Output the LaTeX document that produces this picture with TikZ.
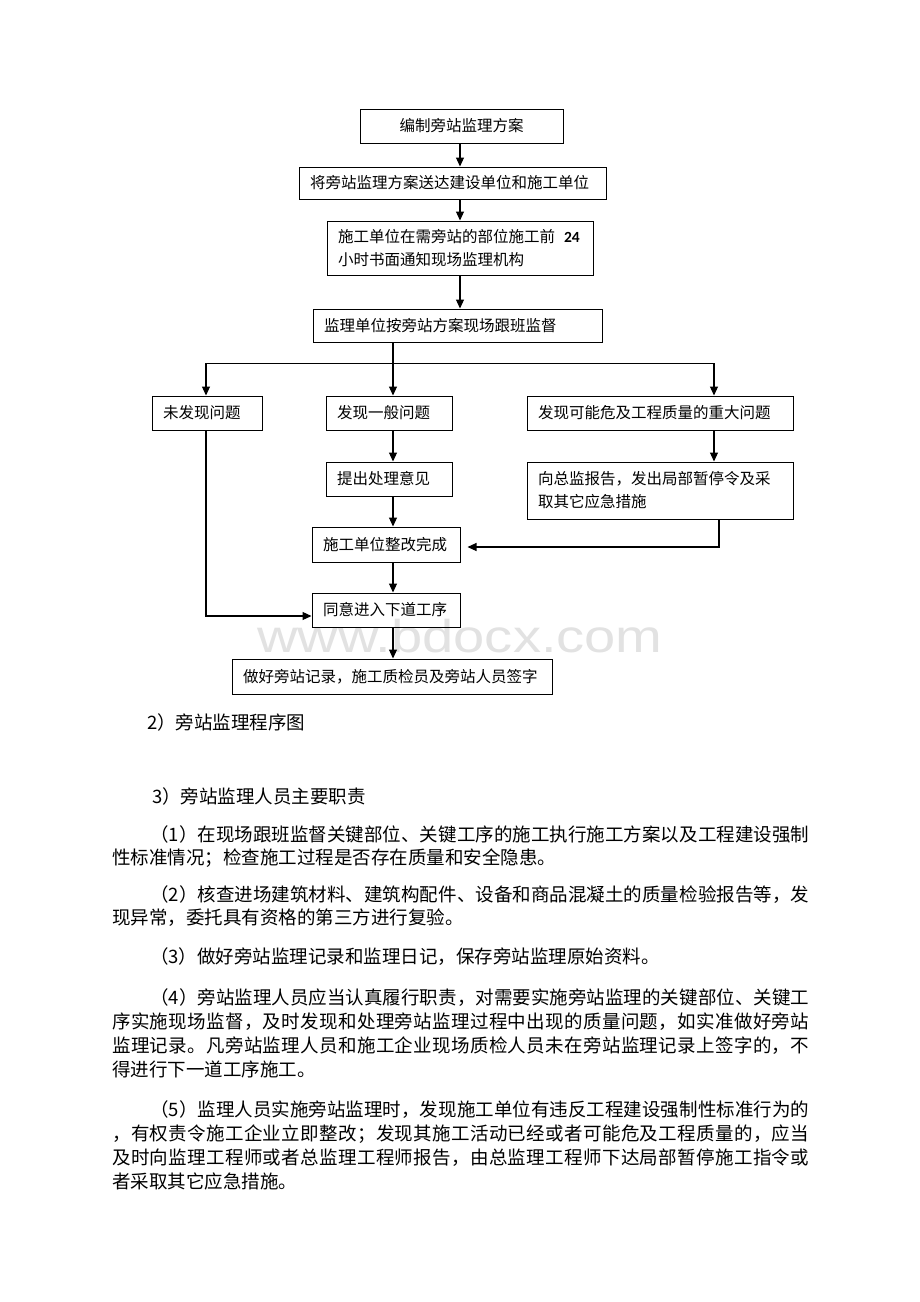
\documentclass[tikz,border=0pt]{standalone}
\usepackage{fontspec}
\setmainfont{Noto Sans CJK SC}
\newfontfamily\carlito{Carlito}
\newfontfamily\wmfont{Liberation Sans}
\usepackage{graphicx}
\usetikzlibrary{arrows.meta}
\definecolor{wm}{RGB}{226,226,226}
\makeatletter
\def\jl@a#1{#1\jl@b}
\def\jl@b#1{\ifx\relax#1\else\hfil#1\expandafter\jl@b\fi}
\newcommand\jline[2]{\makebox[#1][s]{\jl@a#2\relax}}
\makeatother
\tikzset{
  fc/.style={draw, line width=1pt, inner xsep=11pt, inner ysep=0pt, align=left,
    font=\fontsize{15.5}{23}\selectfont},
  arr/.style={line width=1.1pt, line join=miter, -{Triangle[length=9pt,width=8pt]}},
  ln/.style={line width=1pt},
  body/.style={anchor=base west, inner sep=0pt, font=\fontsize{18.5}{20}\selectfont},
  wmark/.style={anchor=base, inner sep=0pt, text=wm, font=\wmfont\fontsize{46}{46}\selectfont}
}
\begin{document}
\begin{tikzpicture}[x=1pt,y=-1pt]
\fill[white] (0,0) rectangle (920,1302);
\useasboundingbox (0,0) rectangle (920,1302);

% watermark
\node[wmark] (wmk) at (460,652) {\scalebox{1.22}[1]{www.bdocx.com}};

% flowchart boxes
\node[fc, align=center, minimum width=203pt, minimum height=34pt, text width=181pt] (b1) at (461.5,126) {编制旁站监理方案};
\node[fc, minimum width=307pt, minimum height=32pt, text width=285pt] (b2) at (452.5,183) {将旁站监理方案送达建设单位和施工单位};
\node[fc, minimum width=266pt, minimum height=54pt, text width=244pt] (b3) at (460,248) {施工单位在需旁站的部位施工前\nobreak\hspace{9pt}{\carlito\bfseries 24}\\小时书面通知现场监理机构};
\node[fc, minimum width=289pt, minimum height=33pt, text width=267pt] (b4) at (457.5,325.5) {监理单位按旁站方案现场跟班监督};
\node[fc, minimum width=110pt, minimum height=34pt, text width=88pt] (b5) at (207,413) {未发现问题};
\node[fc, minimum width=126pt, minimum height=34pt, text width=104pt] (b6) at (389,413) {发现一般问题};
\node[fc, minimum width=266pt, minimum height=34pt, text width=244pt] (b7) at (660,413) {发现可能危及工程质量的重大问题};
\node[fc, minimum width=126pt, minimum height=34pt, text width=104pt] (b8) at (389,479) {提出处理意见};
\node[fc, minimum width=266pt, minimum height=57pt, text width=244pt] (b9) at (660,490.5) {向总监报告，发出局部暂停令及采\\取其它应急措施};
\node[fc, minimum width=148pt, minimum height=35pt, text width=126pt] (b10) at (386,544.5) {施工单位整改完成};
\node[fc, minimum width=148pt, minimum height=34pt, text width=126pt] (b11) at (386,610) {同意进入下道工序};
\node[fc, minimum width=320pt, minimum height=35pt, text width=298pt] (b12) at (392,676.5) {做好旁站记录，施工质检员及旁站人员签字};

% connector columns / rows
\coordinate (cA) at (460,0);
\coordinate (cM) at (393,0);
\coordinate (cL) at (206,0);
\coordinate (cR) at (714,0);
\coordinate (cR2) at (719,0);
\coordinate (br) at (0,363);
\coordinate (j1) at (0,547);
\coordinate (j2) at (0,616);

\draw[arr] (b1.south -| cA) -- (b2.north -| cA);
\draw[arr] (b2.south -| cA) -- (b3.north -| cA);
\draw[arr] (b3.south -| cA) -- (b4.north -| cA);
\draw[arr] (b4.south -| cM) -- (b6.north -| cM);
\draw[ln] (cL |- br) -- (cR |- br);
\draw[arr] (cL |- br) -- (b5.north -| cL);
\draw[arr] (cR |- br) -- (b7.north -| cR);
\draw[arr] (b6.south -| cM) -- (b8.north -| cM);
\draw[arr] (b7.south -| cR) -- (b9.north -| cR);
\draw[arr] (b8.south -| cM) -- (b10.north -| cM);
\draw[arr, shorten >=7pt] (b9.south -| cR2) -- (cR2 |- j1) -- (b10.east |- j1);
\draw[arr] (b10.south -| cM) -- (b11.north -| cM);
\draw[arr] (b5.south -| cL) -- (cL |- j2) -- (b11.west |- j2);
\draw[arr] (b11.south -| cM) -- (b12.north -| cM);

% body text
\node[body] (t0) at (147,729) {2）旁站监理程序图};
\node[body] (t1) at (152,803) {3）旁站监理人员主要职责};

\node[body] (p1a) at (150,841) {\jline{659pt}{（1）在现场跟班监督关键部位、关键工序的施工执行施工方案以及工程建设强制}};
\node[body] (p1b) at (112,864) {性标准情况；检查施工过程是否存在质量和安全隐患。};

\node[body] (p2a) at (150,901) {\jline{659pt}{（2）核查进场建筑材料、建筑构配件、设备和商品混凝土的质量检验报告等，发}};
\node[body] (p2b) at (112,924) {现异常，委托具有资格的第三方进行复验。};

\node[body] (p3a) at (150,963) {（3）做好旁站监理记录和监理日记，保存旁站监理原始资料。};

\node[body] (p4a) at (150,1004) {\jline{659pt}{（4）旁站监理人员应当认真履行职责，对需要实施旁站监理的关键部位、关键工}};
\node[body] (p4b) at (112,1028) {\jline{697pt}{序实施现场监督，及时发现和处理旁站监理过程中出现的质量问题，如实准做好旁站}};
\node[body] (p4c) at (112,1052) {\jline{697pt}{监理记录。凡旁站监理人员和施工企业现场质检人员未在旁站监理记录上签字的，不}};
\node[body] (p4d) at (112,1076) {得进行下一道工序施工。};

\node[body] (p5a) at (150,1116) {\jline{659pt}{（5）监理人员实施旁站监理时，发现施工单位有违反工程建设强制性标准行为的}};
\node[body] (p5b) at (112,1140) {\jline{697pt}{，有权责令施工企业立即整改；发现其施工活动已经或者可能危及工程质量的，应当}};
\node[body] (p5c) at (112,1164) {\jline{697pt}{及时向监理工程师或者总监理工程师报告，由总监理工程师下达局部暂停施工指令或}};
\node[body] (p5d) at (112,1188) {者采取其它应急措施。};
\end{tikzpicture}
\end{document}
